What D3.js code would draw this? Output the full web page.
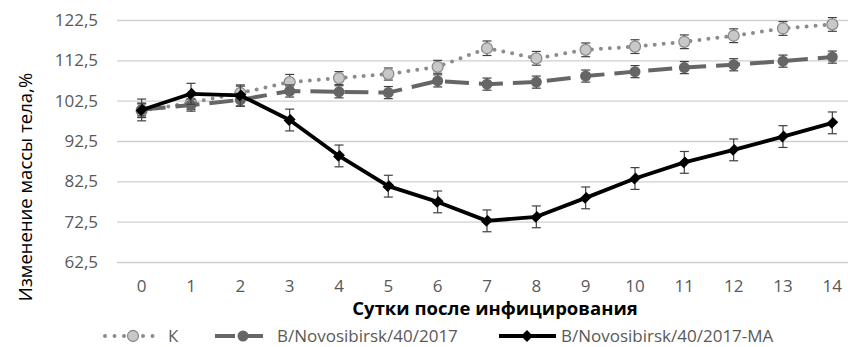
<!DOCTYPE html>
<html>
<head>
<meta charset="utf-8">
<script src="https://cdn.jsdelivr.net/npm/d3@7"></script>
<style>
  body { margin: 0; background: #fff; }
  text { font-family: "Open Sans", "DejaVu Sans", sans-serif; }
</style>
</head>
<body>
<div id="chart"></div>
<script>
// data
var days = [0, 1, 2, 3, 4, 5, 6, 7, 8, 9, 10, 11, 12, 13, 14];
var yTicks = [62.5, 72.5, 82.5, 92.5, 102.5, 112.5, 122.5];

var kValues  = [100.0, 102.0, 104.4, 107.1, 108.1, 109.1, 110.9, 115.5, 113.0, 115.1, 115.9, 117.1, 118.6, 120.4, 121.4];
var kErrors  = [1.7, 1.7, 1.7, 1.9, 1.6, 1.5, 1.6, 1.8, 1.7, 1.7, 1.7, 1.7, 1.7, 1.7, 1.7];
var bValues  = [100.3, 101.4, 102.7, 104.9, 104.7, 104.5, 107.4, 106.6, 107.1, 108.6, 109.7, 110.7, 111.4, 112.3, 113.3];
var bErrors  = [1.6, 1.5, 1.6, 1.5, 1.5, 1.5, 1.5, 1.5, 1.5, 1.5, 1.5, 1.5, 1.5, 1.5, 1.5];
var maValues = [100.2, 104.2, 103.8, 97.7, 88.8, 81.3, 77.4, 72.7, 73.7, 78.4, 83.2, 87.2, 90.3, 93.6, 97.0];
var maErrors = [2.7, 2.6, 2.6, 2.7, 2.7, 2.7, 2.7, 2.7, 2.7, 2.7, 2.7, 2.7, 2.7, 2.7, 2.7];

var seriesNames = ["К", "B/Novosibirsk/40/2017", "B/Novosibirsk/40/2017-MA"];

var width = 848, height = 347;
var plot = {left: 117, right: 857, top: 20, bottom: 262};

var svg = d3.select("#chart")
  .append("svg")
    .attr("width", width)
    .attr("height", height);

var x = d3.scaleBand()
  .domain(days)
  .range([plot.left, plot.right]);

var y = d3.scaleLinear()
  .domain([62.5, 122.5])
  .range([plot.bottom, plot.top]);

var fmt = function(d) { return d3.format(".1f")(d).replace(".", ","); };

// gridlines + y labels
var yAxis = svg.append("g")
  .attr("transform", "translate(" + plot.left + ",0)")
  .call(d3.axisLeft(y).tickValues(yTicks).tickFormat(fmt)
    .tickSize(-(plot.right - plot.left)).tickPadding(19));
yAxis.select(".domain").remove();
yAxis.selectAll("line").attr("stroke", "#d0d0d0").attr("stroke-width", 1.3);
yAxis.selectAll("text").attr("fill", "#595959").style("font-size", "17px");

// x labels
var xAxis = svg.append("g")
  .attr("transform", "translate(0," + plot.bottom + ")")
  .call(d3.axisBottom(x).tickSize(0).tickPadding(18));
xAxis.select(".domain").remove();
xAxis.selectAll("text").attr("fill", "#595959").style("font-size", "17px");

svg.append("text")
  .attr("x", 495).attr("y", 315)
  .attr("text-anchor", "middle")
  .style("font-size", "18.5px").style("font-weight", "bold")
  .attr("fill", "#000")
  .text("Сутки после инфицирования");

svg.append("text")
  .attr("transform", "translate(32,187) rotate(-90)")
  .attr("text-anchor", "middle")
  .style("font-size", "18.5px")
  .attr("fill", "#000")
  .text("Изменение массы тела,%");

var cx = function(d, i) { return x(days[i]) + x.bandwidth() / 2; };

function drawErrors(values, errors) {
  var g = svg.append("g").attr("stroke", "#404040").attr("stroke-width", 1.2);
  values.forEach(function(v, i) {
    var xc = cx(v, i);
    var y0 = y(v - errors[i]), y1 = y(v + errors[i]);
    g.append("line").attr("x1", xc).attr("x2", xc).attr("y1", y0).attr("y2", y1);
    g.append("line").attr("x1", xc - 4.5).attr("x2", xc + 4.5).attr("y1", y0).attr("y2", y0);
    g.append("line").attr("x1", xc - 4.5).attr("x2", xc + 4.5).attr("y1", y1).attr("y2", y1);
  });
}

var line = d3.line()
  .x(function(d, i) { return cx(d, i); })
  .y(function(d) { return y(d); });

// K series
drawErrors(kValues, kErrors);
svg.append("path").datum(kValues)
  .attr("fill", "none").attr("stroke", "#8c8c8c").attr("stroke-width", 4)
  .attr("stroke-linecap", "round").attr("stroke-dasharray", "0,9")
  .attr("d", line);
svg.append("g").selectAll("circle").data(kValues).enter().append("circle")
  .attr("cx", cx).attr("cy", function(d) { return y(d); }).attr("r", 5.5)
  .attr("fill", "#c8c8c8").attr("stroke", "#8c8c8c").attr("stroke-width", 1.3);

// B series
drawErrors(bValues, bErrors);
svg.append("path").datum(bValues)
  .attr("fill", "none").attr("stroke", "#666666").attr("stroke-width", 4)
  .attr("stroke-dasharray", "24,10")
  .attr("d", line);
svg.append("g").selectAll("circle").data(bValues).enter().append("circle")
  .attr("cx", cx).attr("cy", function(d) { return y(d); }).attr("r", 5.5)
  .attr("fill", "#666666");

// MA series
drawErrors(maValues, maErrors);
svg.append("path").datum(maValues)
  .attr("fill", "none").attr("stroke", "#000").attr("stroke-width", 3.8)
  .attr("stroke-linejoin", "round")
  .attr("d", line);
var diamond = d3.symbol().type(d3.symbolDiamond2).size(90);
svg.append("g").selectAll("path").data(maValues).enter().append("path")
  .attr("d", diamond)
  .attr("transform", function(d, i) { return "translate(" + cx(d, i) + "," + y(d) + ") rotate(45) scale(0.9,1.1) rotate(-45)"; })
  .attr("fill", "#000");

// legend
var ly = 336;
var leg = svg.append("g");
leg.append("line").attr("x1", 105).attr("x2", 153).attr("y1", ly).attr("y2", ly)
  .attr("stroke", "#8c8c8c").attr("stroke-width", 4).attr("stroke-linecap", "round")
  .attr("stroke-dasharray", "0,9.5");
leg.append("circle").attr("cx", 133).attr("cy", ly).attr("r", 5.5)
  .attr("fill", "#c8c8c8").attr("stroke", "#8c8c8c").attr("stroke-width", 1.3);
leg.append("line").attr("x1", 215).attr("x2", 263).attr("y1", ly).attr("y2", ly)
  .attr("stroke", "#666666").attr("stroke-width", 4).attr("stroke-dasharray", "20,8");
leg.append("circle").attr("cx", 243).attr("cy", ly).attr("r", 5.5).attr("fill", "#666666");
leg.append("line").attr("x1", 499).attr("x2", 556).attr("y1", ly).attr("y2", ly)
  .attr("stroke", "#000").attr("stroke-width", 3.8);
leg.append("path").attr("d", diamond)
  .attr("transform", "translate(527," + ly + ")").attr("fill", "#000");

var legX = [168, 277, 561];
seriesNames.forEach(function(n, i) {
  leg.append("text").attr("x", legX[i]).attr("y", ly + 6)
    .style("font-size", "17px").attr("fill", "#595959").text(n);
});
</script>
</body>
</html>
